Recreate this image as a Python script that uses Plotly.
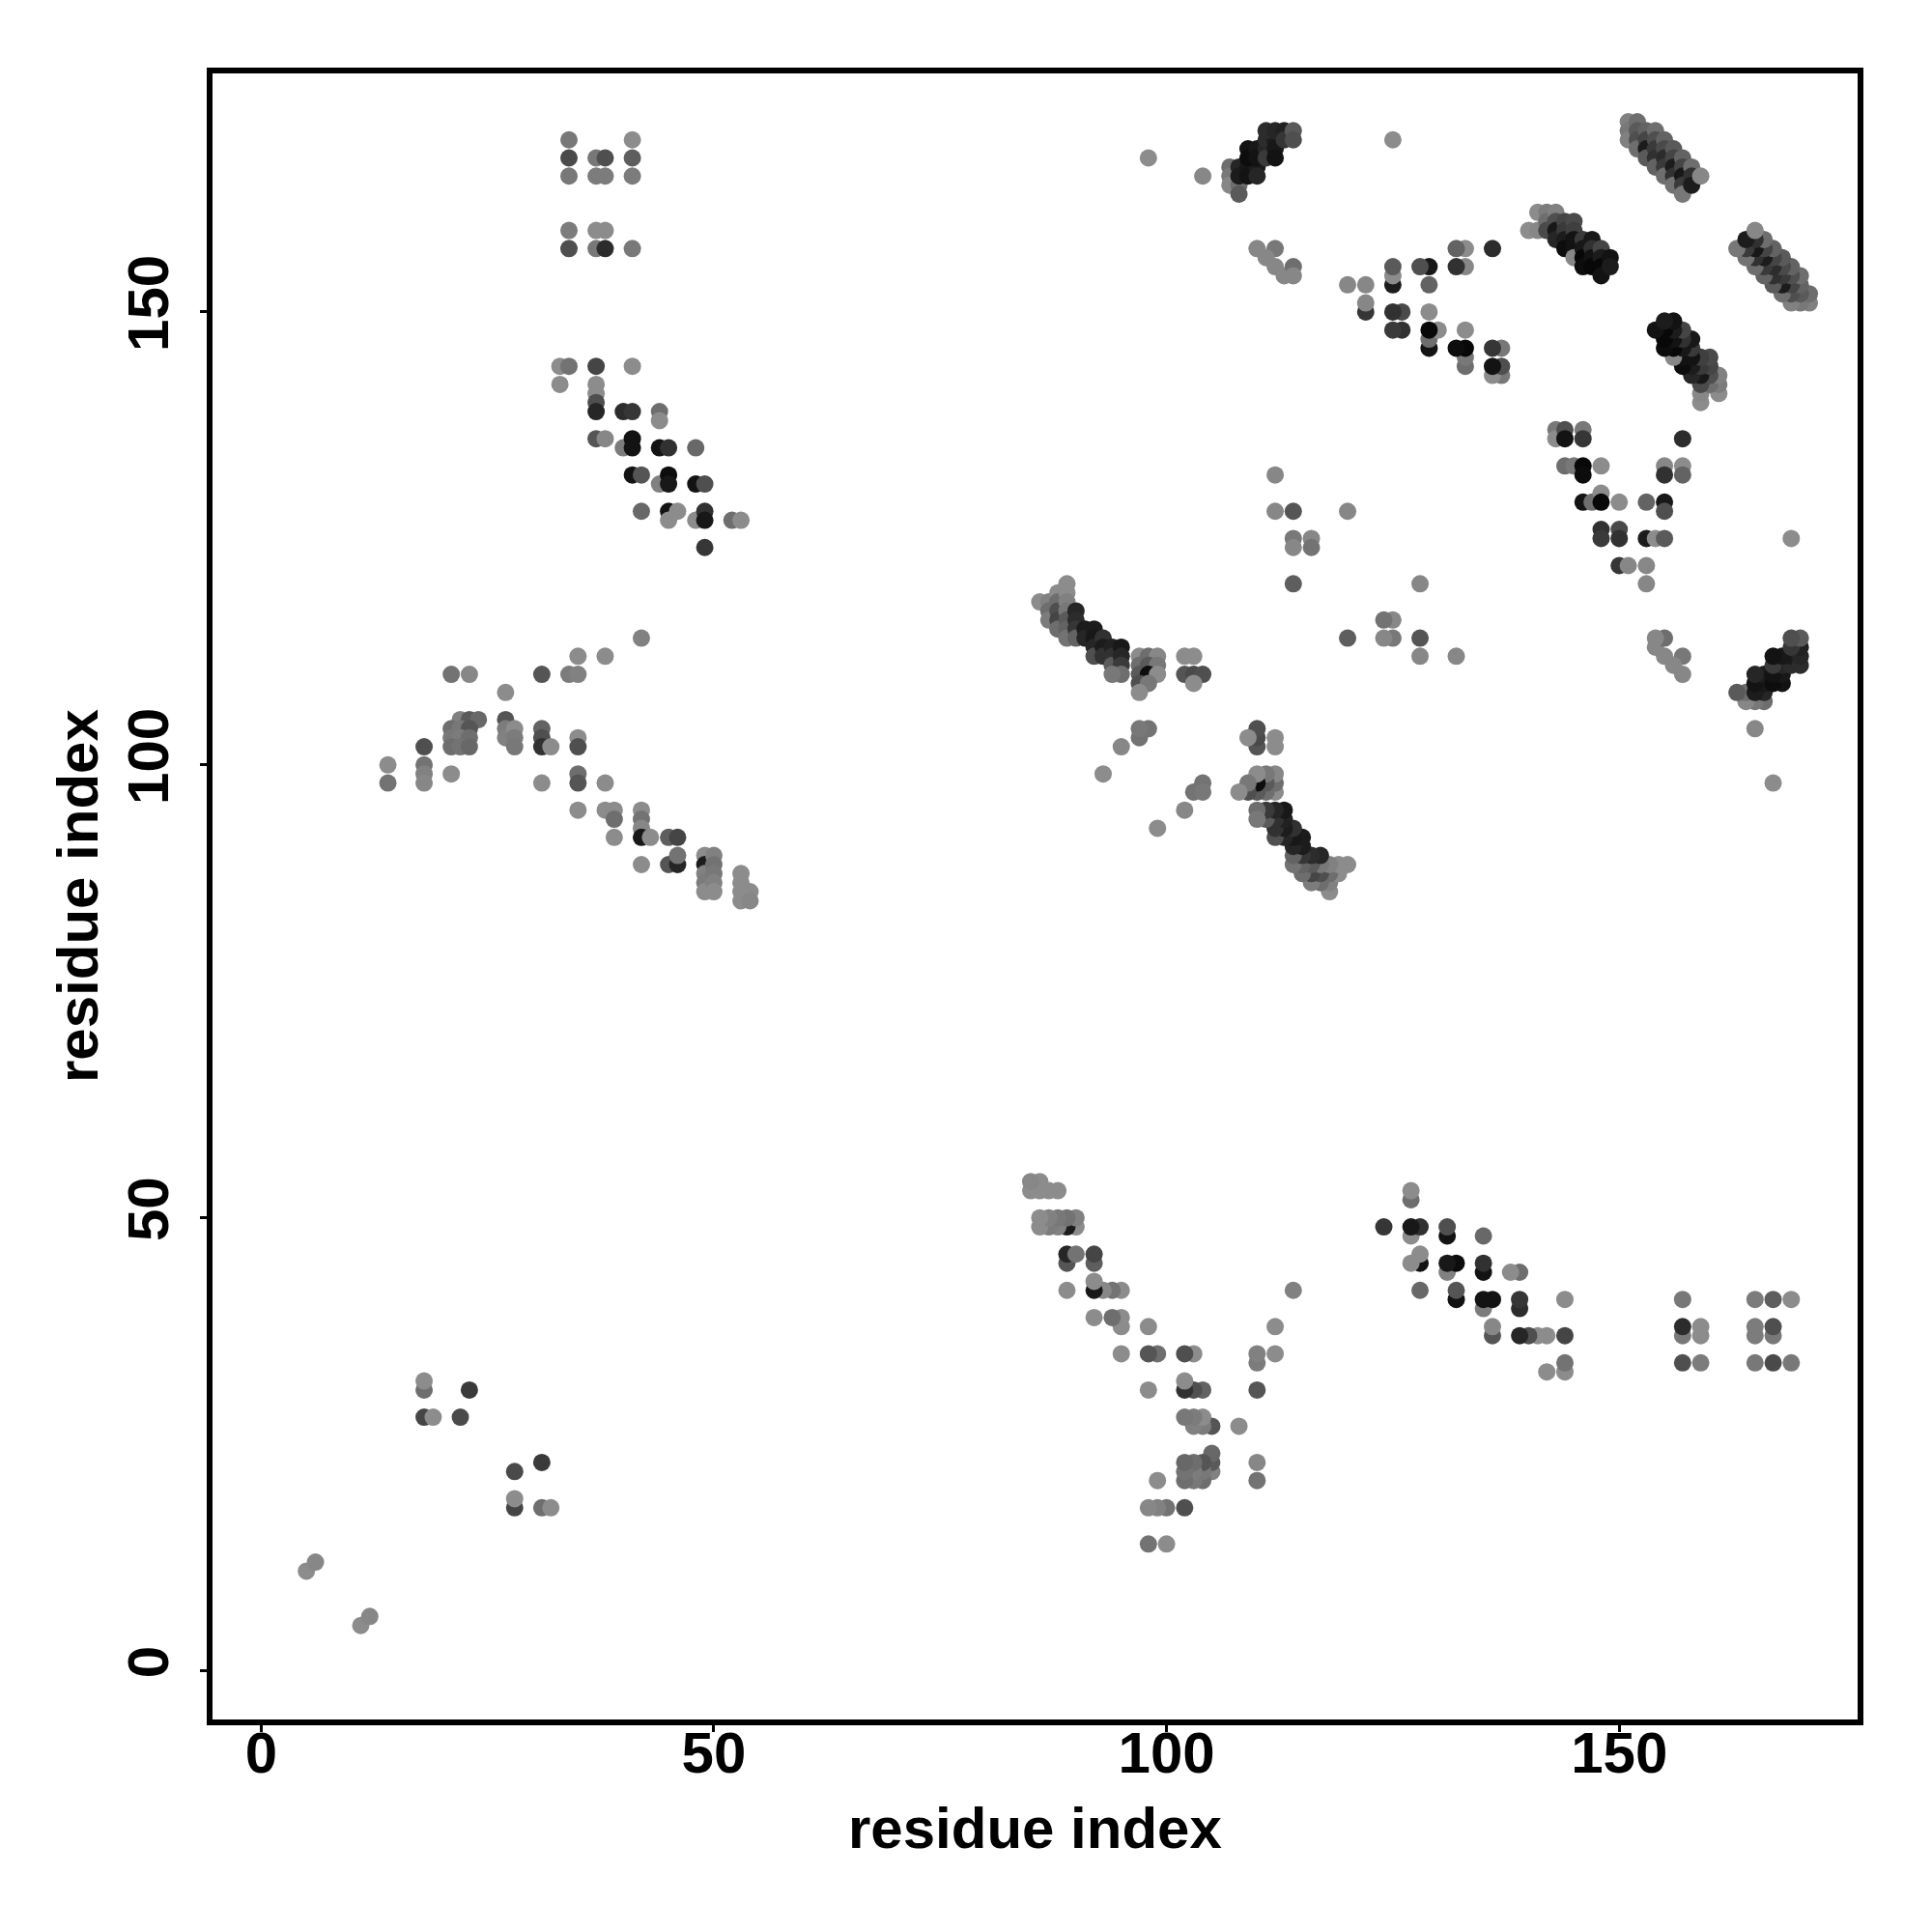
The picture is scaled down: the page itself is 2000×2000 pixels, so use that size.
import plotly.graph_objects as go

# Contact map: each residue pair (i, j) is a contact; the map is symmetric,
# so every pair is drawn at (i, j) and (j, i).
# score: contact strength 0-100 (darker = stronger)

res_i = [
    # N-terminal contacts
    5, 6, 18, 19, 22, 18, 18, 23,
    # region 14-54 vs 85-114
    42, 35, 38, 21, 23, 31, 34, 35, 27, 22, 23, 24, 21, 22, 23, 21, 22, 23, 21, 22, 23,
    27, 27, 27, 28, 28, 28, 31, 31, 31, 32, 35, 35, 18, 18, 18, 18, 14, 14, 21, 31, 35, 35, 38,
    35, 38, 39, 39, 39, 42, 42, 42, 42, 43, 45, 46, 42, 45, 46, 46,
    49, 49, 49, 49, 49, 50, 50, 50, 50, 50, 53, 53, 53, 53, 54, 54,
    # region 33-53 vs 124-169
    34, 34, 34, 41, 41, 41, 37, 38, 37, 38, 34, 34, 37, 38, 37, 38, 41,
    33, 34, 33, 37, 41, 37, 37, 37, 37, 40, 41, 44, 44, 37, 38, 40, 41, 41, 44, 45, 48,
    41, 42, 44, 45, 45, 48, 49, 42, 45, 46, 45, 48, 49, 49, 52, 53, 49,
    # helix-helix strand 86-104 vs 108-120
    86, 87, 87, 87, 88, 88, 88, 88, 88, 89, 89, 89, 89, 89, 89, 89, 90, 90, 90, 90, 91, 91,
    92, 92, 92, 92, 93, 93, 93, 94, 94, 94, 95, 95, 95, 95, 94, 97, 98, 99, 97, 98, 99, 97,
    98, 99, 97, 98, 97, 102, 103, 102, 103, 104, 103,
    93, 95, 97, 98, 97, 114,
    # 98-125 vs 120-170
    98, 104, 125,
    107, 107, 107, 108, 108, 108, 108, 109, 109, 110, 110, 109, 109, 110, 110, 111, 111, 111,
    112, 112, 112, 111, 112, 113, 113, 114, 114,
    110, 112, 111, 112, 113, 114, 114,
    112, 112, 114, 120, 114, 116, 114, 116,
    # 120-137 vs 143-157
    143, 143, 144, 144, 146, 146, 157, 144, 145, 146, 146, 148, 155, 155, 157, 157,
    146, 147, 148, 148, 150, 153, 155, 155, 148, 148, 150, 150, 153, 154, 155,
    150, 151, 153, 153,
    # 140-149 vs 154-161
    140, 141, 141, 142, 142, 142, 143, 143, 143, 143, 144, 144, 144, 144, 145, 145, 145, 145, 145,
    146, 146, 146, 146, 147, 147, 147, 147, 148, 148, 148, 148, 149, 149,
    # 151-159 vs 163-171
    151, 151, 151, 152, 152, 152, 152, 153, 153, 153, 153, 154, 154, 154, 154, 154,
    155, 155, 155, 155, 155, 156, 156, 156, 156, 156, 157, 157, 157, 157, 157, 158, 158, 158, 159,
]

res_j = [
    11, 12, 28, 28, 28, 31, 32, 31,
    114, 112, 112, 110, 110, 110, 110, 110, 108, 105, 105, 105, 104, 104, 104, 103, 103, 103, 102, 102, 102,
    105, 104, 103, 104, 103, 102, 104, 103, 102, 102, 103, 102, 102, 100, 99, 98, 100, 98, 99, 98, 99, 98, 98,
    95, 95, 95, 94, 92, 95, 94, 93, 92, 92, 92, 92, 89, 89, 89, 90,
    90, 89, 88, 87, 86, 90, 89, 88, 87, 86, 88, 87, 86, 85, 86, 85,
    169, 167, 165, 169, 167, 165, 167, 167, 165, 165, 159, 157, 159, 159, 157, 157, 157,
    144, 144, 142, 144, 144, 142, 141, 140, 139, 139, 139, 139, 138, 136, 136, 135, 136, 135, 135, 135, 135,
    132, 132, 131, 132, 131, 131, 131, 128, 128, 128, 127, 127, 128, 127, 127, 127, 124,
    118, 118, 117, 116, 119, 118, 117, 116, 115, 120, 119, 118, 117, 116, 115, 114, 117, 116, 115, 114, 115, 114,
    115, 114, 113, 112, 114, 113, 112, 113, 112, 111, 113, 112, 111, 110, 110, 112, 112, 112, 111, 111, 111, 110,
    110, 110, 109, 109, 108, 112, 112, 110, 110, 110, 109,
    99, 102, 103, 104, 104, 120,
    167, 165, 169,
    166, 165, 164, 164, 163, 166, 165, 166, 165, 166, 165, 168, 167, 168, 167, 168, 167, 169,
    169, 168, 167, 170, 170, 170, 169, 170, 169,
    157, 157, 156, 155, 154, 155, 154,
    132, 128, 128, 128, 125, 125, 124, 124,
    137, 136, 137, 136, 137, 136, 136, 133, 133, 133, 132, 133, 133, 132, 133, 132,
    129, 129, 130, 129, 129, 129, 129, 128, 126, 125, 126, 125, 125, 125, 125,
    122, 122, 122, 120,
    159, 161, 159, 161, 160, 159, 161, 160, 159, 158, 160, 159, 158, 157, 160, 159, 158, 157, 156,
    158, 157, 156, 155, 158, 157, 156, 155, 157, 156, 155, 154, 156, 155,
    171, 170, 169, 171, 170, 169, 168, 170, 169, 168, 167, 170, 169, 168, 167, 166,
    169, 168, 167, 166, 165, 168, 167, 166, 165, 164, 167, 166, 165, 164, 163, 166, 165, 164, 165,
]

score = [
    0, 4, 54, 0, 50, 23, 0, 62,
    8, 0, 0, 19, 4, 42, 12, 8, 0, 8, 38, 27, 23, 15, 42, 15, 12, 23, 23, 19, 27,
    42, 12, 8, 0, 12, 15, 31, 46, 69, 0, 0, 46, 46, 19, 8, 4, 0, 19, 0, 0, 23, 42, 0,
    0, 0, 0, 23, 0, 0, 19, 4, 88, 0, 35, 54, 0, 42, 77, 19,
    0, 85, 8, 12, 0, 8, 19, 15, 8, 0, 0, 0, 0, 0, 0, 4,
    15, 50, 15, 0, 35, 12, 15, 46, 12, 12, 12, 46, 0, 0, 15, 73, 15,
    0, 19, 0, 54, 0, 0, 0, 46, 77, 73, 65, 23, 0, 42, 4, 12, 92, 92, 92, 69, 27,
    92, 42, 8, 96, 88, 92, 46, 27, 92, 0, 0, 0, 69, 88, 23, 0, 65,
    0, 8, 23, 12, 0, 23, 46, 54, 23, 0, 0, 8, 15, 38, 31, 19, 77, 73, 65, 31, 85, 77,
    85, 88, 77, 46, 69, 85, 69, 81, 69, 38, 88, 77, 62, 23, 15, 0, 23, 4, 23, 38, 15, 38,
    96, 0, 46, 15, 0, 0, 0, 42, 50, 46, 0,
    0, 4, 19, 19, 15, 35,
    0, 4, 0,
    23, 15, 4, 23, 38, 77, 85, 88, 92, 85, 77, 92, 96, 88, 92, 77, 62, 73,
    85, 88, 92, 73, 77, 81, 65, 38, 46,
    4, 15, 4, 4, 4, 23, 4,
    4, 4, 42, 4, 15, 4, 4, 19,
    15, 0, 46, 92, 15, 65, 73, 23, 15, 100, 96, 0, 4, 69, 0, 31,
    92, 23, 0, 100, 0, 31, 88, 46, 69, 62, 50, 69, 85, 0, 38,
    65, 4, 4, 4,
    0, 0, 4, 12, 23, 50, 8, 46, 88, 77, 54, 62, 85, 96, 50, 58, 92, 92, 4,
    62, 88, 100, 96, 88, 69, 92, 100, 54, 85, 100, 92, 92, 85,
    8, 15, 8, 23, 38, 46, 23, 31, 54, 85, 38, 23, 46, 62, 69, 31,
    31, 50, 73, 62, 23, 38, 54, 85, 69, 19, 31, 54, 88, 62, 15, 23, 69, 85, 4,
]

tick_values = [0, 50, 100, 150]
tick_labels = ["0", "50", "100", "150"]
axis_title = "residue index"

xs = res_i + res_j
ys = res_j + res_i
cs = score + score

fig = go.Figure()
fig.add_trace(go.Scatter(
    x=xs, y=ys, mode="markers",
    marker=dict(
        size=18, color=cs, cmin=0, cmax=100,
        colorscale=[[0, "rgb(140,140,140)"], [1, "rgb(8,8,8)"]],
        line=dict(width=0), opacity=1,
    ),
    showlegend=False, hoverinfo="x+y",
))

font_family = "Liberation Sans, Arial, Helvetica, sans-serif"
axis_common = dict(
    range=[-5.37, 176.33], tickvals=tick_values, ticktext=tick_labels,
    ticks="outside", ticklen=7, tickwidth=3, tickcolor="black",
    showline=True, linewidth=6, linecolor="black", mirror=True,
    showgrid=False, zeroline=False,
    tickfont=dict(family=font_family, size=60, color="black", weight="bold"),
)

fig.update_layout(
    width=1984, height=1984,
    margin=dict(l=212, r=69, t=68, b=212, autoexpand=False),
    paper_bgcolor="white", plot_bgcolor="white",
    xaxis=dict(**axis_common, ticklabelstandoff=-30),
    yaxis=dict(**axis_common, tickangle=-90, ticklabelstandoff=9),
    annotations=[
        dict(text=axis_title, xref="paper", yref="paper", x=0.5, y=0,
             xanchor="center", yanchor="middle", yshift=-112, showarrow=False,
             font=dict(family=font_family, size=60, color="black", weight="bold")),
        dict(text=axis_title, xref="paper", yref="paper", x=0, y=0.5,
             xanchor="center", yanchor="middle", xshift=-140, textangle=-90, showarrow=False,
             font=dict(family=font_family, size=60, color="black", weight="bold")),
    ],
)

fig.write_html("out.html")
